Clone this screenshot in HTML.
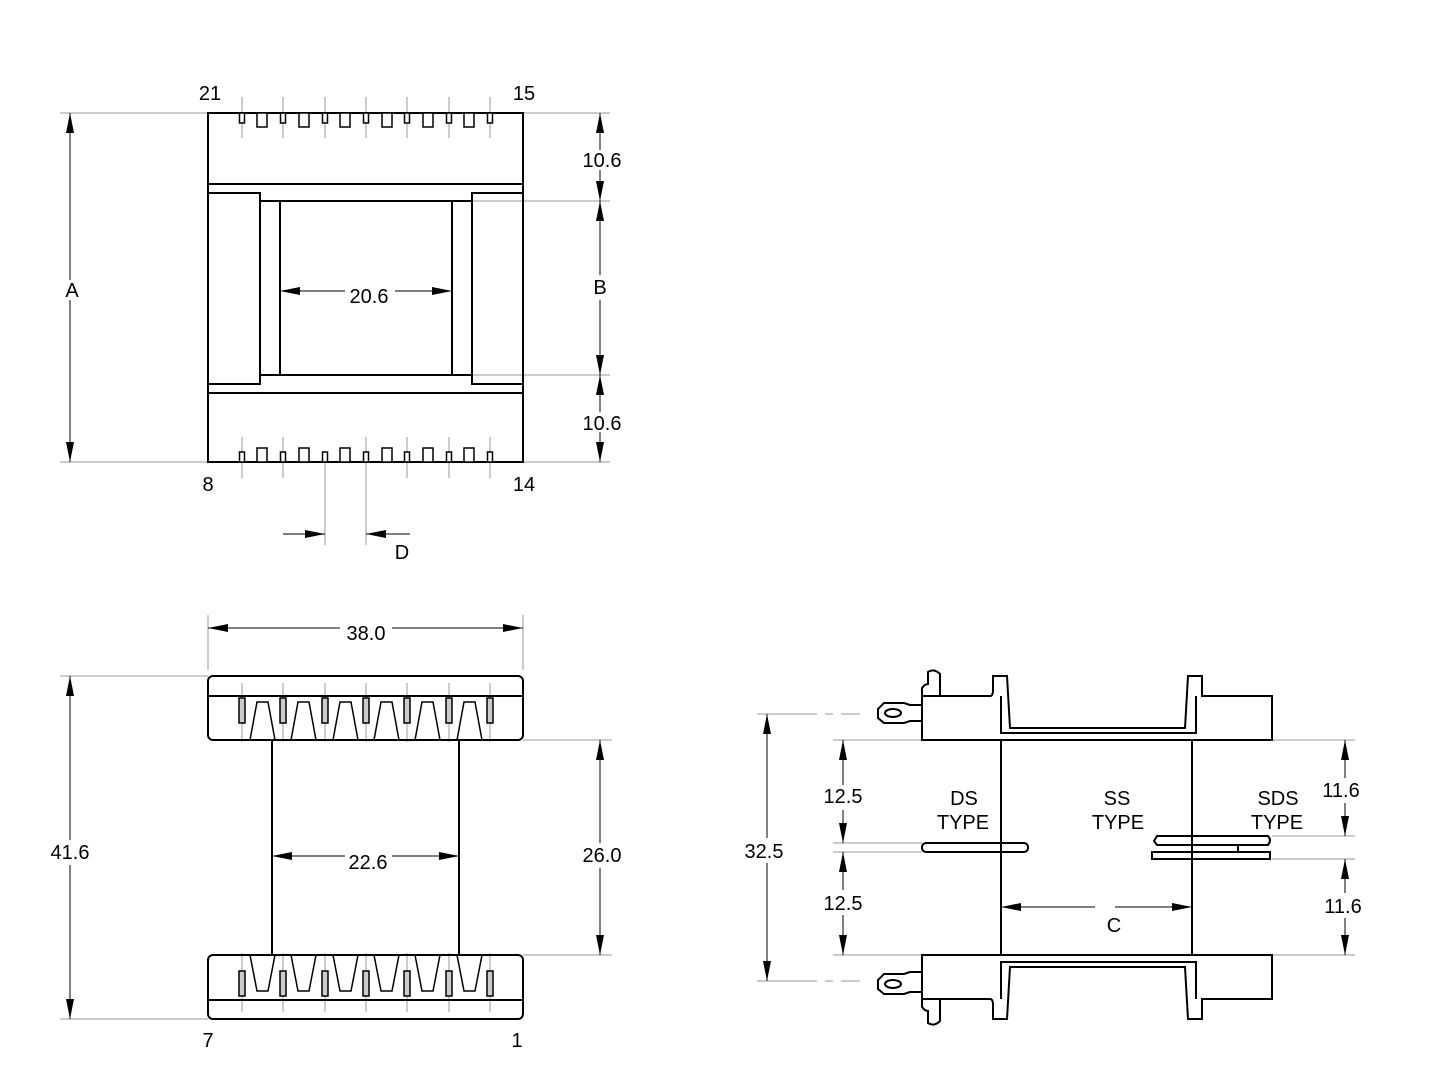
<!DOCTYPE html>
<html><head><style>html,body{margin:0;padding:0;background:#fff}svg{display:block}text{font-family:"Liberation Sans",sans-serif;font-size:20px;fill:#000}</style></head>
<body>
<svg width="1440" height="1080" viewBox="0 0 1440 1080" xmlns="http://www.w3.org/2000/svg">
<defs>
<marker id="a" viewBox="0 0 20 8" refX="20" refY="4" markerWidth="20" markerHeight="8" orient="auto-start-reverse" markerUnits="userSpaceOnUse"><path d="M0,0 L20,4 L0,8 z" fill="#000"/></marker>
</defs>
<g stroke="#999" stroke-width="1" fill="none">
<!-- top view extension lines -->
<line x1="60" y1="113" x2="208" y2="113"/><line x1="60" y1="462" x2="208" y2="462"/>
<line x1="523" y1="113" x2="610" y2="113"/><line x1="523" y1="462" x2="610" y2="462"/>
<line x1="472" y1="201" x2="610" y2="201"/><line x1="472" y1="375" x2="610" y2="375"/>
<line x1="325" y1="462" x2="325" y2="545"/><line x1="366" y1="462" x2="366" y2="545"/>
<!-- bottom-left ext -->
<line x1="208" y1="615" x2="208" y2="670"/><line x1="523" y1="615" x2="523" y2="670"/>
<line x1="60" y1="676" x2="208" y2="676"/><line x1="60" y1="1019" x2="208" y2="1019"/>
<line x1="523" y1="740" x2="612" y2="740"/><line x1="523" y1="955" x2="612" y2="955"/>
<!-- right ext -->
<line x1="757" y1="714" x2="860" y2="714" stroke-dasharray="60 8 8 8"/><line x1="757" y1="981" x2="860" y2="981" stroke-dasharray="60 8 8 8"/>
<line x1="833" y1="740" x2="922" y2="740"/><line x1="833" y1="955" x2="922" y2="955"/>
<line x1="833" y1="843" x2="922" y2="843"/><line x1="833" y1="852" x2="922" y2="852"/>
<line x1="1272" y1="740" x2="1355" y2="740"/><line x1="1272" y1="955" x2="1355" y2="955"/>
<line x1="1272" y1="836" x2="1355" y2="836"/><line x1="1272" y1="859" x2="1355" y2="859"/>
</g>
<!-- pin center lines -->
<g stroke="#999" stroke-width="1">
<line x1="242" y1="97" x2="242" y2="138"/><line x1="283" y1="97" x2="283" y2="138"/><line x1="325" y1="97" x2="325" y2="138"/><line x1="366" y1="97" x2="366" y2="138"/><line x1="407" y1="97" x2="407" y2="138"/><line x1="449" y1="97" x2="449" y2="138"/><line x1="490" y1="97" x2="490" y2="138"/>
<line x1="242" y1="437" x2="242" y2="478"/><line x1="283" y1="437" x2="283" y2="478"/><line x1="366" y1="437" x2="366" y2="478"/><line x1="407" y1="437" x2="407" y2="478"/><line x1="449" y1="437" x2="449" y2="478"/><line x1="490" y1="437" x2="490" y2="478"/>
<line x1="242" y1="683" x2="242" y2="742"/><line x1="283" y1="683" x2="283" y2="742"/><line x1="325" y1="683" x2="325" y2="742"/><line x1="366" y1="683" x2="366" y2="742"/><line x1="407" y1="683" x2="407" y2="742"/><line x1="449" y1="683" x2="449" y2="742"/><line x1="490" y1="683" x2="490" y2="742"/>
<line x1="242" y1="953" x2="242" y2="1012"/><line x1="283" y1="953" x2="283" y2="1012"/><line x1="325" y1="953" x2="325" y2="1012"/><line x1="366" y1="953" x2="366" y2="1012"/><line x1="407" y1="953" x2="407" y2="1012"/><line x1="449" y1="953" x2="449" y2="1012"/><line x1="490" y1="953" x2="490" y2="1012"/>
</g>
<g stroke="#000" stroke-width="2" fill="none">
<!-- top view -->
<rect x="208" y="113" width="315" height="349"/>
<line x1="208" y1="184" x2="523" y2="184"/><line x1="208" y1="393" x2="523" y2="393"/>
<path d="M208 193 H260 V384 H208"/><path d="M523 193 H472 V384 H523"/>
<line x1="260" y1="201" x2="472" y2="201"/><line x1="260" y1="375" x2="472" y2="375"/>
<line x1="280" y1="201" x2="280" y2="375"/><line x1="452" y1="201" x2="452" y2="375"/>
</g>
<g stroke="#000" stroke-width="1.5" fill="#fff">
<rect x="239.5" y="113" width="5" height="10"/><rect x="280.5" y="113" width="5" height="10"/><rect x="322.5" y="113" width="5" height="10"/><rect x="363.5" y="113" width="5" height="10"/><rect x="404.5" y="113" width="5" height="10"/><rect x="446.5" y="113" width="5" height="10"/><rect x="487.5" y="113" width="5" height="10"/>
<rect x="257" y="113" width="10" height="14"/><rect x="299" y="113" width="10" height="14"/><rect x="340" y="113" width="10" height="14"/><rect x="382" y="113" width="10" height="14"/><rect x="423" y="113" width="10" height="14"/><rect x="464" y="113" width="10" height="14"/>
<rect x="239.5" y="452" width="5" height="10"/><rect x="280.5" y="452" width="5" height="10"/><rect x="322.5" y="452" width="5" height="10"/><rect x="363.5" y="452" width="5" height="10"/><rect x="404.5" y="452" width="5" height="10"/><rect x="446.5" y="452" width="5" height="10"/><rect x="487.5" y="452" width="5" height="10"/>
<rect x="257" y="448" width="10" height="14"/><rect x="299" y="448" width="10" height="14"/><rect x="340" y="448" width="10" height="14"/><rect x="382" y="448" width="10" height="14"/><rect x="423" y="448" width="10" height="14"/><rect x="464" y="448" width="10" height="14"/>
</g>
<!-- bottom-left view -->
<g stroke="#000" stroke-width="2" fill="none">
<rect x="208" y="676" width="315" height="64" rx="5"/>
<line x1="208" y1="696" x2="523" y2="696"/>
<rect x="208" y="955" width="315" height="64" rx="5"/>
<line x1="208" y1="1000" x2="523" y2="1000"/>
<line x1="272" y1="740" x2="272" y2="955"/><line x1="459" y1="740" x2="459" y2="955"/>
</g>
<g stroke="#000" stroke-width="1.5" fill="none">
<path d="M250 740 L257 702 H268 L275 740 M291 740 L298 702 H309 L316 740 M333 740 L340 702 H351 L358 740 M374 740 L381 702 H392 L399 740 M415 740 L422 702 H433 L440 740 M457 740 L464 702 H475 L482 740"/>
<path d="M250 955 L257 991 H268 L275 955 M291 955 L298 991 H309 L316 955 M333 955 L340 991 H351 L358 955 M374 955 L381 991 H392 L399 955 M415 955 L422 991 H433 L440 955 M457 955 L464 991 H475 L482 955"/>
</g>
<g stroke="#000" stroke-width="1.5" fill="#ccc">
<rect x="239" y="698" width="6" height="25"/><rect x="280" y="698" width="6" height="25"/><rect x="322" y="698" width="6" height="25"/><rect x="363" y="698" width="6" height="25"/><rect x="404" y="698" width="6" height="25"/><rect x="446" y="698" width="6" height="25"/><rect x="487" y="698" width="6" height="25"/>
<rect x="239" y="971" width="6" height="25"/><rect x="280" y="971" width="6" height="25"/><rect x="322" y="971" width="6" height="25"/><rect x="363" y="971" width="6" height="25"/><rect x="404" y="971" width="6" height="25"/><rect x="446" y="971" width="6" height="25"/><rect x="487" y="971" width="6" height="25"/>
</g>
<!-- right view -->
<g stroke="#000" stroke-width="2" fill="none">
<path d="M922 696 H990 Q993 696 993 690 V676 H1007 L1010 728 H1185 L1188 676 H1202 V696 H1272 V740 H922 Z"/>
<path d="M1001 696 V733 H1196 V696"/>
<path d="M922 696 V688 Q925 684 928 684 V672 Q934 668 940 674 V696"/>
<path d="M922 705 H910 L904 703 H884 L878 709 V718 L884 723 H904 L910 721 H922"/>
<ellipse cx="893" cy="713" rx="8" ry="4"/>
<path d="M922 955 H1272 V999 H1202 V1019 H1188 L1185 967 H1010 L1007 1019 H993 V1005 Q993 999 990 999 H922 Z"/>
<path d="M1001 999 V962 H1196 V999"/>
<path d="M922 999 V1007 Q925 1011 928 1011 V1023 Q934 1027 940 1021 V999"/>
<path d="M922 972 H910 L904 974 H884 L878 980 V989 L884 994 H904 L910 992 H922"/>
<ellipse cx="893" cy="984" rx="8" ry="4"/>
<line x1="1001" y1="740" x2="1001" y2="955"/><line x1="1192" y1="740" x2="1192" y2="955"/>
<rect x="922" y="843" width="106" height="9" rx="4"/>
<path d="M1157 836 H1268 Q1272 840 1268 845 H1157 L1154 841 Z M1152 852 H1270 V859 H1152 Z M1238 845 V852"/>
</g>
<!-- dimension arrows -->
<g stroke="#000" stroke-width="1" fill="none" marker-end="url(#a)">
<line x1="70" y1="280" x2="70" y2="113"/><line x1="70" y1="300" x2="70" y2="462"/>
<line x1="600" y1="150" x2="600" y2="113"/><line x1="600" y1="170" x2="600" y2="201"/>
<line x1="600" y1="275" x2="600" y2="201"/><line x1="600" y1="300" x2="600" y2="375"/>
<line x1="600" y1="412" x2="600" y2="375"/><line x1="600" y1="432" x2="600" y2="462"/>
<line x1="345" y1="291" x2="280" y2="291"/><line x1="395" y1="291" x2="452" y2="291"/>
<line x1="283" y1="534" x2="325" y2="534"/><line x1="410" y1="534" x2="366" y2="534"/>
<line x1="340" y1="628" x2="208" y2="628"/><line x1="392" y1="628" x2="523" y2="628"/>
<line x1="70" y1="840" x2="70" y2="676"/><line x1="70" y1="865" x2="70" y2="1019"/>
<line x1="600" y1="843" x2="600" y2="740"/><line x1="600" y1="868" x2="600" y2="955"/>
<line x1="345" y1="856" x2="272" y2="856"/><line x1="392" y1="856" x2="459" y2="856"/>
<line x1="767" y1="838" x2="767" y2="714"/><line x1="767" y1="863" x2="767" y2="981"/>
<line x1="843" y1="785" x2="843" y2="740"/><line x1="843" y1="810" x2="843" y2="843"/>
<line x1="843" y1="890" x2="843" y2="852"/><line x1="843" y1="915" x2="843" y2="955"/>
<line x1="1345" y1="778" x2="1345" y2="740"/><line x1="1345" y1="803" x2="1345" y2="836"/>
<line x1="1345" y1="893" x2="1345" y2="859"/><line x1="1345" y1="918" x2="1345" y2="955"/>
<line x1="1095" y1="907" x2="1001" y2="907"/><line x1="1115" y1="907" x2="1192" y2="907"/>
</g>
<g text-anchor="middle">
<text x="210" y="100">21</text><text x="524" y="100">15</text>
<text x="208" y="491">8</text><text x="524" y="491">14</text>
<text x="72" y="297">A</text><text x="602" y="167">10.6</text><text x="600" y="294">B</text><text x="602" y="430">10.6</text>
<text x="369" y="303">20.6</text><text x="402" y="559">D</text>
<text x="366" y="640">38.0</text><text x="70" y="859">41.6</text><text x="602" y="862">26.0</text><text x="368" y="869">22.6</text>
<text x="208" y="1047">7</text><text x="517" y="1047">1</text>
<text x="764" y="858">32.5</text><text x="843" y="803">12.5</text><text x="843" y="910">12.5</text>
<text x="1341" y="797">11.6</text><text x="1343" y="913">11.6</text>
<text x="964" y="805">DS</text><text x="963" y="829">TYPE</text>
<text x="1117" y="805">SS</text><text x="1118" y="829">TYPE</text>
<text x="1278" y="805">SDS</text><text x="1277" y="829">TYPE</text>
<text x="1114" y="932">C</text>
</g>
</svg>
</body></html>
